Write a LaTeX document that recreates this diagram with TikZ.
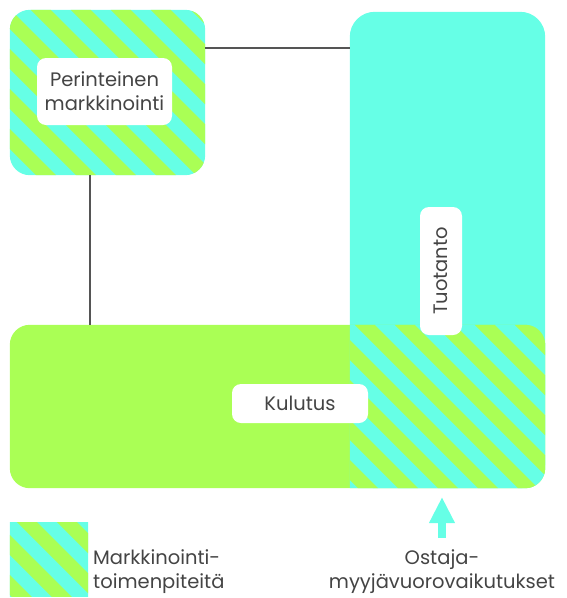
\documentclass[tikz,border=0pt]{standalone}
\usepackage{fontspec}
\setmainfont{Poppins}
\usetikzlibrary{arrows.meta}
\definecolor{aqua}{HTML}{66FFE6}
\definecolor{lime}{HTML}{AAFF55}
\definecolor{ink}{HTML}{444444}
\definecolor{wire}{HTML}{555555}

% diagonal aqua/lime stripes filling the current clip region;
% #1 shifts the stripes sideways
\newcommand\stripes[1]{%
  \fill[aqua] (-10,-10) rectangle (600,620);
  \foreach \a in {-680,-640,...,640}
    \fill[lime] (\a+#1,0) -- ++(20,0) -- ++(620,620) -- ++(-20,0) -- cycle;}

\tikzset{
  area/.style={minimum width=#1, inner sep=0pt, draw=none},
  tag/.style={fill=white, rounded corners=9pt, inner sep=0pt, text=ink,
    font=\fontsize{19.5}{24}\selectfont, align=center},
  conn/.style={draw=wire, line width=1.4pt},
  legend/.style={text=ink, font=\fontsize{19.5}{24}\selectfont, inner sep=0pt},
  uparrow/.style={draw=aqua, line width=8pt,
    -{Triangle[width=24pt,length=26pt]}},
}

\begin{document}
\begin{tikzpicture}[x=1pt,y=-1pt]
\useasboundingbox (0,0) rectangle (567,598);

% frames of the three areas
\node[area=195, minimum height=165] (trad) at (107.5,92.5) {};
\node[area=195, minimum height=476] (prod) at (447.5,250) {};
\node[area=535, minimum height=163] (cons) at (277.5,406.5) {};
\node[area=78, minimum height=73] (key) at (49,559.5) {};

% production column
\fill[aqua, rounded corners=25pt] (prod.north west) rectangle (prod.south east);

% consumption band
\fill[lime, rounded corners=20pt] (cons.north west) rectangle (cons.south east);
\begin{scope}
  \clip[rounded corners=20pt] (cons.north west) rectangle (cons.south east);
  \clip (prod.west |- cons.north) rectangle (cons.south east);
  \stripes{30}
\end{scope}

% traditional marketing box
\begin{scope}
  \clip[rounded corners=20pt] (trad.north west) rectangle (trad.south east);
  \stripes{21}
\end{scope}

% legend swatch
\begin{scope}
  \clip (key.north west) rectangle (key.south east);
  \stripes{15}
\end{scope}

% connectors
\coordinate (hl) at ([yshift=-38pt]trad.north east);
\coordinate (vt) at ([xshift=-17.5pt]trad.south);
\draw[conn] (hl) -- (hl -| prod.west);
\draw[conn] (vt) -- (vt |- cons.north);

% labels
\node[tag, minimum width=135, minimum height=67] (tradlbl) at (104.5,91.5)
  {Perinteinen\\markkinointi};
\node[tag, rotate=90, minimum width=128, minimum height=42] (prodlbl) at (441,271)
  {Tuotanto};
\node[tag, minimum width=136, minimum height=39] (conslbl) at (300,403.5)
  {Kulutus};

% legend texts
\node[legend, anchor=west, align=left] (keytxt) at (93,572) {Markkinointi-\\toimenpiteitä};
\node[legend, align=center] (inter) at (442,572) {Ostaja-\\myyjävuorovaikutukset};

% interaction arrow
\coordinate (atail) at (442,538);
\coordinate (atip) at (442,497);
\draw[uparrow] (atail) -- (atip);
\end{tikzpicture}
\end{document}
